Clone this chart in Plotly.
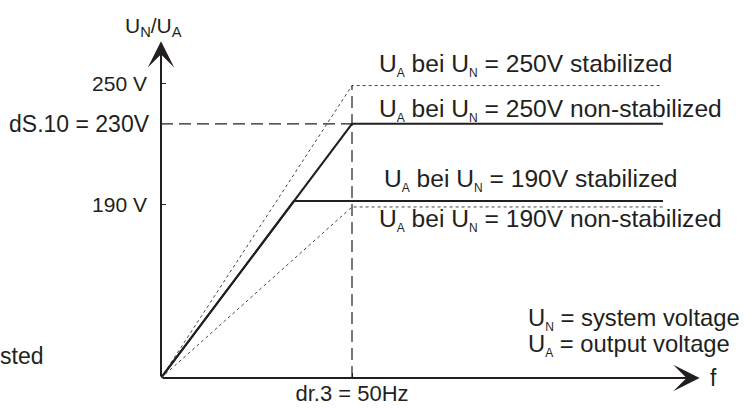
import plotly.graph_objects as go

# ---- data (schematic) ----
f_nominal = 50          # Hz (dr.3)
f_axis_end = 141.0      # tip of f-axis arrow
u_origin = 104          # voltage at the axis origin (schematic)
u_axis_end = 271        # tip of U-axis arrow

series_names = ["250V stabilized", "250V non-stabilized", "190V stabilized", "190V non-stabilized"]
series_f = [
    [0, 50, 131.4],
    [0, 50, 131.4],
    [0, 34.8, 131.4],
    [0, 50, 131.4],
]
series_u = [
    [104, 249, 249],
    [104, 230, 230],
    [104, 191.7, 191.7],
    [104, 188.8, 188.8],
]
series_dash = ["dot", "solid", "solid", "dot"]

y_tick_vals = [250, 190]
y_tick_text = ["250 V", "190 V"]
u_rated = 230
x_tick_vals = [50]
x_tick_text = ["dr.3 = 50Hz"]


def sub(s):
    return "<sub><span style='font-size:12px'>" + s + "</span></sub>"


label_texts = [
    "U" + sub("A") + " bei U" + sub("N") + " = 250V stabilized",
    "U" + sub("A") + " bei U" + sub("N") + " = 250V non-stabilized",
    "U" + sub("A") + " bei U" + sub("N") + " = 190V stabilized",
    "U" + sub("A") + " bei U" + sub("N") + " = 190V non-stabilized",
]
label_f = [56.5, 56.5, 57.9, 56.5]
label_u = [259.2, 236.9, 202.2, 182.3]

FONT = "Liberation Sans, Arial, sans-serif"
INK = "#231f20"

fig = go.Figure()

for name, fx, uy, dash in zip(series_names, series_f, series_u, series_dash):
    fig.add_trace(go.Scatter(
        x=fx, y=uy, mode="lines", name=name,
        line=dict(color=INK if dash == "solid" else "#444444",
                  width=2 if dash == "solid" else 1,
                  dash=dash if dash == "solid" else "3px,3px"),
        hoverinfo="skip", showlegend=False))

# dashed guide lines for rated values
fig.add_trace(go.Scatter(x=[0, f_nominal], y=[u_rated, u_rated], mode="lines",
                         line=dict(color=INK, width=1.2, dash="12px,6px"),
                         hoverinfo="skip", showlegend=False))
fig.add_trace(go.Scatter(x=[f_nominal, f_nominal], y=[u_origin, series_u[0][1]], mode="lines",
                         line=dict(color=INK, width=1.2, dash="12px,6px"),
                         hoverinfo="skip", showlegend=False))

annotations = []
# axes with arrows
annotations.append(dict(x=f_axis_end, y=u_origin, ax=0, ay=u_origin, xref="x", yref="y",
                        axref="x", ayref="y", text="", showarrow=True, arrowhead=3,
                        arrowsize=2.2, arrowwidth=2, arrowcolor=INK, standoff=0, startstandoff=0))
annotations.append(dict(x=0, y=u_axis_end, ax=0, ay=u_origin, xref="x", yref="y",
                        axref="x", ayref="y", text="", showarrow=True, arrowhead=3,
                        arrowsize=2.2, arrowwidth=2, arrowcolor=INK, standoff=0, startstandoff=0))

for t, fx, uy in zip(label_texts, label_f, label_u):
    annotations.append(dict(x=fx, y=uy, xref="x", yref="y", text=t, showarrow=False,
                            xanchor="left", yanchor="middle",
                            font=dict(family=FONT, size=24.6, color=INK)))

annotations += [
    dict(x=0, y=u_axis_end, xref="x", yref="y", text="U<sub>N</sub>/U<sub>A</sub>",
         showarrow=False, xanchor="center", yanchor="bottom", xshift=-8, yshift=-1,
         font=dict(family=FONT, size=21, color=INK)),
    dict(x=0, y=u_rated, xref="x", yref="y", text="dS.10 = 230V", showarrow=False,
         xanchor="right", yanchor="middle", xshift=-9,
         font=dict(family=FONT, size=23, color=INK)),
    dict(x=f_axis_end, y=u_origin, xref="x", yref="y", text="f", showarrow=False,
         xanchor="left", yanchor="middle", xshift=8,
         font=dict(family=FONT, size=23, color=INK)),
    dict(x=95.5, y=133.5, xref="x", yref="y", text="U" + sub("N") + " = system voltage",
         showarrow=False, xanchor="left", yanchor="middle",
         font=dict(family=FONT, size=23.8, color=INK)),
    dict(x=95.5, y=120.4, xref="x", yref="y", text="U" + sub("A") + " = output voltage",
         showarrow=False, xanchor="left", yanchor="middle",
         font=dict(family=FONT, size=23.8, color=INK)),
    dict(x=0, y=114.7, xref="paper", yref="y", text="sted", showarrow=False,
         xanchor="left", yanchor="middle", xshift=-163,
         font=dict(family=FONT, size=23, color=INK)),
]

fig.update_layout(
    width=752, height=408,
    margin=dict(l=161, r=18, t=33, b=30, autoexpand=False),
    paper_bgcolor="white", plot_bgcolor="white",
    showlegend=False,
    annotations=annotations,
    xaxis=dict(range=[0, 150], showgrid=False, zeroline=False, showline=False,
               automargin=False, fixedrange=True,
               tickvals=x_tick_vals, ticktext=x_tick_text, ticks="inside", ticklen=5,
               tickwidth=1, tickcolor=INK,
               tickfont=dict(family=FONT, size=22, color=INK)),
    yaxis=dict(range=[u_origin, u_origin + 345 / 2.017], showgrid=False, zeroline=False,
               showline=False, automargin=False, fixedrange=True,
               tickvals=y_tick_vals, ticktext=y_tick_text,
               ticks="inside", ticklen=5, tickwidth=1, tickcolor=INK,
               ticklabelstandoff=13,
               tickfont=dict(family=FONT, size=21, color=INK)),
)

fig.write_html("out.html", config={"displayModeBar": False, "staticPlot": True},
               post_script="document.body.style.margin='0';document.body.style.overflow='hidden';")
